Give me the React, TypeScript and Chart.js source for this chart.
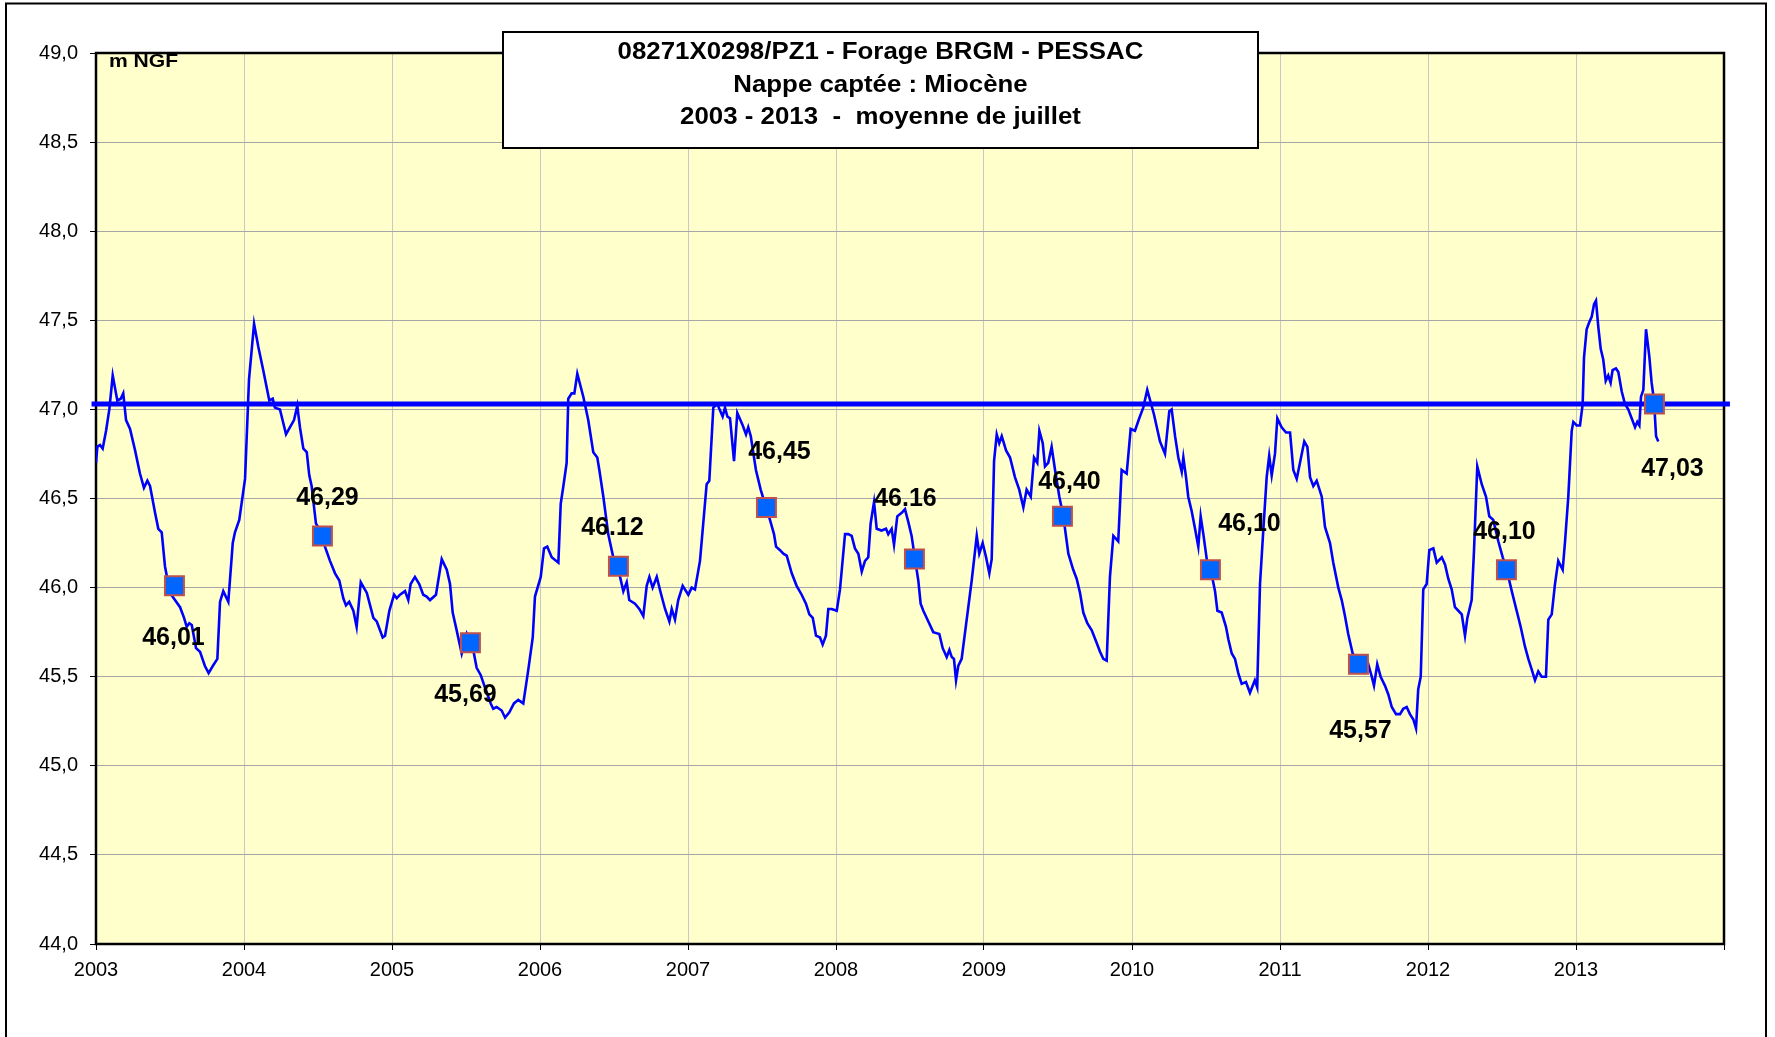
import { useEffect, useRef } from 'react';
import { Chart, registerables } from 'chart.js';

Chart.register(...registerables);

// ---- Data (decimal years, m NGF) ----
const levelYears = [
  2003.000, 2003.009, 2003.027, 2003.045, 2003.068, 2003.090, 2003.113, 2003.144, 2003.167, 2003.184,
  2003.203, 2003.230, 2003.264, 2003.297, 2003.324, 2003.347, 2003.365, 2003.399, 2003.421, 2003.444,
  2003.466, 2003.500, 2003.568, 2003.595, 2003.613, 2003.630, 2003.647, 2003.676, 2003.703, 2003.736,
  2003.761, 2003.789, 2003.820, 2003.838, 2003.860, 2003.894, 2003.924, 2003.939, 2003.968, 2004.007,
  2004.034, 2004.068, 2004.097, 2004.130, 2004.171, 2004.194, 2004.209, 2004.243, 2004.284, 2004.311,
  2004.338, 2004.360, 2004.378, 2004.401, 2004.424, 2004.441, 2004.457, 2004.486, 2004.532, 2004.547,
  2004.581, 2004.615, 2004.644, 2004.671, 2004.689, 2004.711, 2004.739, 2004.761, 2004.789, 2004.830,
  2004.874, 2004.897, 2004.937, 2004.953, 2004.982, 2005.014, 2005.032, 2005.054, 2005.088, 2005.110,
  2005.126, 2005.155, 2005.184, 2005.211, 2005.234, 2005.257, 2005.297, 2005.336, 2005.370, 2005.392,
  2005.410, 2005.437, 2005.471, 2005.505, 2005.549, 2005.572, 2005.599, 2005.628, 2005.667, 2005.684,
  2005.707, 2005.741, 2005.764, 2005.793, 2005.824, 2005.853, 2005.887, 2005.921, 2005.951, 2005.966,
  2006.005, 2006.027, 2006.049, 2006.079, 2006.124, 2006.140, 2006.158, 2006.180, 2006.191, 2006.214,
  2006.232, 2006.252, 2006.293, 2006.326, 2006.360, 2006.387, 2006.401, 2006.428, 2006.461, 2006.495,
  2006.541, 2006.563, 2006.586, 2006.603, 2006.642, 2006.671, 2006.698, 2006.721, 2006.739, 2006.761,
  2006.789, 2006.816, 2006.845, 2006.874, 2006.890, 2006.912, 2006.934, 2006.964, 2007.002, 2007.025,
  2007.047, 2007.081, 2007.103, 2007.126, 2007.144, 2007.171, 2007.198, 2007.234, 2007.250, 2007.266,
  2007.284, 2007.311, 2007.333, 2007.370, 2007.392, 2007.407, 2007.424, 2007.459, 2007.491, 2007.520,
  2007.554, 2007.581, 2007.595, 2007.622, 2007.644, 2007.667, 2007.701, 2007.734, 2007.768, 2007.797,
  2007.820, 2007.843, 2007.865, 2007.892, 2007.910, 2007.932, 2007.948, 2007.971, 2008.005, 2008.027,
  2008.061, 2008.083, 2008.106, 2008.128, 2008.151, 2008.174, 2008.196, 2008.218, 2008.234, 2008.257,
  2008.275, 2008.308, 2008.338, 2008.353, 2008.376, 2008.392, 2008.414, 2008.444, 2008.466, 2008.488,
  2008.511, 2008.534, 2008.556, 2008.572, 2008.590, 2008.624, 2008.657, 2008.698, 2008.721, 2008.748,
  2008.766, 2008.782, 2008.797, 2008.811, 2008.826, 2008.849, 2008.883, 2008.917, 2008.951, 2008.968,
  2008.991, 2009.014, 2009.036, 2009.052, 2009.068, 2009.086, 2009.103, 2009.120, 2009.149, 2009.176,
  2009.209, 2009.238, 2009.266, 2009.288, 2009.316, 2009.338, 2009.360, 2009.374, 2009.397, 2009.412,
  2009.434, 2009.457, 2009.480, 2009.509, 2009.536, 2009.570, 2009.603, 2009.626, 2009.649, 2009.671,
  2009.698, 2009.728, 2009.761, 2009.784, 2009.806, 2009.829, 2009.851, 2009.874, 2009.907, 2009.930,
  2009.964, 2009.991, 2010.020, 2010.049, 2010.076, 2010.103, 2010.126, 2010.149, 2010.189, 2010.223,
  2010.252, 2010.268, 2010.291, 2010.313, 2010.336, 2010.347, 2010.365, 2010.380, 2010.403, 2010.426,
  2010.448, 2010.464, 2010.482, 2010.505, 2010.532, 2010.561, 2010.577, 2010.606, 2010.635, 2010.651,
  2010.674, 2010.696, 2010.718, 2010.741, 2010.770, 2010.797, 2010.830, 2010.846, 2010.865, 2010.887,
  2010.910, 2010.927, 2010.944, 2010.966, 2010.982, 2011.011, 2011.041, 2011.068, 2011.090, 2011.113,
  2011.135, 2011.164, 2011.185, 2011.203, 2011.225, 2011.248, 2011.282, 2011.304, 2011.338, 2011.360,
  2011.394, 2011.417, 2011.439, 2011.461, 2011.491, 2011.518, 2011.586, 2011.620, 2011.635, 2011.657,
  2011.680, 2011.709, 2011.732, 2011.755, 2011.784, 2011.811, 2011.833, 2011.856, 2011.878, 2011.901,
  2011.919, 2011.934, 2011.951, 2011.968, 2011.991, 2012.009, 2012.036, 2012.059, 2012.093, 2012.115,
  2012.137, 2012.160, 2012.182, 2012.205, 2012.228, 2012.250, 2012.266, 2012.295, 2012.311, 2012.333,
  2012.363, 2012.392, 2012.414, 2012.441, 2012.475, 2012.505, 2012.532, 2012.566, 2012.599, 2012.626,
  2012.655, 2012.678, 2012.701, 2012.723, 2012.745, 2012.768, 2012.797, 2012.813, 2012.836, 2012.858,
  2012.880, 2012.910, 2012.926, 2012.948, 2012.971, 2012.982, 2013.005, 2013.027, 2013.045, 2013.054,
  2013.072, 2013.090, 2013.106, 2013.122, 2013.135, 2013.151, 2013.167, 2013.184, 2013.201, 2013.218,
  2013.234, 2013.247, 2013.270, 2013.286, 2013.309, 2013.331, 2013.353, 2013.376, 2013.399, 2013.414,
  2013.428, 2013.439, 2013.455, 2013.473, 2013.495, 2013.511, 2013.527, 2013.541, 2013.556,
];

const levelValues = [
  46.70, 46.79, 46.80, 46.78, 46.88, 47.00, 47.19, 47.05, 47.06, 47.09,
  46.94, 46.89, 46.77, 46.64, 46.56, 46.60, 46.57, 46.42, 46.33, 46.31,
  46.12, 45.97, 45.89, 45.83, 45.78, 45.80, 45.79, 45.66, 45.64, 45.56,
  45.52, 45.56, 45.60, 45.92, 45.98, 45.92, 46.25, 46.31, 46.38, 46.61,
  47.17, 47.48, 47.35, 47.22, 47.05, 47.06, 47.01, 47.00, 46.86, 46.90,
  46.94, 47.02, 46.90, 46.78, 46.76, 46.63, 46.57, 46.36, 46.29, 46.23,
  46.15, 46.08, 46.04, 45.94, 45.90, 45.92, 45.87, 45.78, 46.03, 45.97,
  45.83, 45.81, 45.72, 45.73, 45.87, 45.96, 45.94, 45.96, 45.98, 45.93,
  46.02, 46.06, 46.02, 45.96, 45.95, 45.93, 45.96, 46.16, 46.10, 46.02,
  45.86, 45.76, 45.63, 45.74, 45.65, 45.55, 45.51, 45.44, 45.35, 45.32,
  45.33, 45.31, 45.27, 45.30, 45.35, 45.37, 45.35, 45.54, 45.72, 45.95,
  46.06, 46.22, 46.23, 46.17, 46.14, 46.47, 46.57, 46.70, 47.06, 47.09,
  47.09, 47.20, 47.07, 46.94, 46.76, 46.73, 46.66, 46.51, 46.30, 46.17,
  46.06, 45.98, 46.03, 45.93, 45.91, 45.88, 45.84, 46.01, 46.06, 46.00,
  46.06, 45.97, 45.88, 45.81, 45.88, 45.82, 45.93, 46.01, 45.96, 46.00,
  45.99, 46.15, 46.36, 46.58, 46.60, 47.01, 47.03, 46.96, 47.01, 46.96,
  46.95, 46.71, 46.98, 46.91, 46.86, 46.90, 46.85, 46.66, 46.55, 46.47,
  46.38, 46.30, 46.23, 46.21, 46.19, 46.18, 46.08, 46.01, 45.96, 45.91,
  45.85, 45.83, 45.73, 45.72, 45.68, 45.73, 45.88, 45.88, 45.87, 45.99,
  46.30, 46.30, 46.29, 46.22, 46.19, 46.09, 46.15, 46.17, 46.36, 46.48,
  46.33, 46.32, 46.33, 46.30, 46.33, 46.24, 46.40, 46.42, 46.44, 46.37,
  46.29, 46.16, 46.04, 45.91, 45.87, 45.81, 45.75, 45.74, 45.66, 45.61,
  45.65, 45.61, 45.60, 45.48, 45.56, 45.60, 45.82, 46.04, 46.29, 46.19,
  46.25, 46.17, 46.08, 46.16, 46.71, 46.86, 46.81, 46.85, 46.77, 46.73,
  46.62, 46.55, 46.45, 46.55, 46.51, 46.73, 46.70, 46.88, 46.81, 46.68,
  46.70, 46.79, 46.66, 46.51, 46.40, 46.19, 46.10, 46.05, 45.97, 45.86,
  45.80, 45.76, 45.69, 45.64, 45.60, 45.59, 46.06, 46.29, 46.26, 46.66,
  46.64, 46.89, 46.88, 46.95, 47.01, 47.11, 47.04, 46.97, 46.82, 46.75,
  46.99, 47.00, 46.85, 46.73, 46.65, 46.73, 46.62, 46.51, 46.43, 46.33,
  46.23, 46.40, 46.30, 46.16, 46.10, 45.98, 45.87, 45.86, 45.78, 45.71,
  45.63, 45.60, 45.52, 45.46, 45.47, 45.41, 45.48, 45.44, 46.02, 46.32,
  46.62, 46.74, 46.63, 46.75, 46.95, 46.90, 46.87, 46.87, 46.66, 46.61,
  46.70, 46.82, 46.79, 46.62, 46.57, 46.60, 46.51, 46.34, 46.25, 46.14,
  46.00, 45.93, 45.84, 45.74, 45.63, 45.60, 45.60, 45.50, 45.45, 45.57,
  45.50, 45.45, 45.40, 45.33, 45.29, 45.29, 45.32, 45.33, 45.29, 45.26,
  45.21, 45.43, 45.50, 45.99, 46.02, 46.21, 46.22, 46.14, 46.17, 46.13,
  46.05, 45.99, 45.89, 45.87, 45.85, 45.73, 45.83, 45.93, 46.21, 46.68,
  46.58, 46.51, 46.40, 46.38, 46.26, 46.17, 46.10, 45.98, 45.87, 45.78,
  45.67, 45.60, 45.54, 45.48, 45.53, 45.50, 45.50, 45.82, 45.85, 46.02,
  46.15, 46.10, 46.26, 46.51, 46.88, 46.93, 46.91, 46.91, 47.03, 47.29,
  47.45, 47.49, 47.52, 47.59, 47.61, 47.46, 47.34, 47.28, 47.16, 47.19,
  47.15, 47.22, 47.23, 47.21, 47.10, 47.03, 47.00, 46.95, 46.90, 46.93,
  46.91, 47.07, 47.11, 47.45, 47.30, 47.15, 47.05, 46.85, 46.82,
];

const julyYears = [2003.53, 2004.53, 2005.53, 2006.53, 2007.53, 2008.53, 2009.53, 2010.53, 2011.53, 2012.53, 2013.53];
const julyMeans = [46.01, 46.29, 45.69, 46.12, 46.45, 46.16, 46.40, 46.10, 45.57, 46.10, 47.03];
const julyLabels = ['46,01', '46,29', '45,69', '46.12', '46,45', '46.16', '46,40', '46,10', '45,57', '46,10', '47,03'];

const meanLevel = 47.03;
const meanLineYears = [2002.97, 2014.04];

const titleLines = [
  '08271X0298/PZ1 - Forage BRGM - PESSAC',
  'Nappe captée : Miocène',
  '2003 - 2013  -  moyenne de juillet',
];
const unitText = 'm NGF';

// ---- Styles / layout ----
const FONT = '"Liberation Sans", Arial, sans-serif';
const labelOffsets = [
  [-1, 52], [5, -38], [-5, 52], [-6, -38], [13, -55], [-9, -60],
  [7, -34], [39, -46], [2, 67], [-2, -38], [18, 65],
];

function stretchedText(ctx: CanvasRenderingContext2D, text: string, x: number, y: number, font: string, sx: number, align: CanvasTextAlign) {
  ctx.save();
  ctx.translate(x, y);
  ctx.scale(sx, 1);
  ctx.font = font;
  ctx.textAlign = align;
  ctx.textBaseline = 'alphabetic';
  ctx.fillStyle = '#000';
  ctx.fillText(text, 0, 0);
  ctx.restore();
}

const decorPlugin = {
  id: 'decor',
  beforeDraw(chart: any) {
    const { ctx, chartArea: a } = chart;
    ctx.save();
    ctx.fillStyle = '#FFFFFF';
    ctx.fillRect(0, 0, chart.width, chart.height);
    ctx.fillStyle = '#FFFFCC';
    ctx.fillRect(a.left, a.top, a.right - a.left, a.bottom - a.top);
    ctx.restore();
  },
  beforeDatasetsDraw(chart: any) {
    const { ctx, chartArea: a } = chart;
    ctx.save();
    ctx.strokeStyle = '#000';
    ctx.lineWidth = 2.5;
    ctx.strokeRect(a.left, a.top, a.right - a.left, a.bottom - a.top);
    ctx.restore();
  },
  afterDraw(chart: any) {
    const { ctx } = chart;
    const meta = chart.getDatasetMeta(2);
    ctx.save();
    // data labels
    ctx.font = `bold 25px ${FONT}`;
    ctx.fillStyle = '#000';
    ctx.textAlign = 'center';
    ctx.textBaseline = 'middle';
    meta.data.forEach((pt: any, i: number) => {
      const [dx, dy] = labelOffsets[i];
      ctx.fillText(julyLabels[i], pt.x + dx, pt.y + dy);
    });
    // unit label
    stretchedText(ctx, unitText, 109, 67, `bold 19px ${FONT}`, 1.11, 'left');
    // title box
    ctx.fillStyle = '#FFFFFF';
    ctx.fillRect(503, 32, 755, 116);
    ctx.strokeStyle = '#000';
    ctx.lineWidth = 2;
    ctx.strokeRect(503, 32, 755, 116);
    const baselines = [58.5, 91.5, 123.5];
    titleLines.forEach((t, i) => stretchedText(ctx, t, 880.5, baselines[i], `bold 23.5px ${FONT}`, 1.10, 'center'));
    // outer frame
    ctx.strokeStyle = '#000';
    ctx.lineWidth = 2;
    ctx.strokeRect(6, 3.5, 1760, 1060);
    ctx.restore();
  },
};

export default function App() {
  const canvasRef = useRef<HTMLCanvasElement>(null);

  useEffect(() => {
    const canvas = canvasRef.current;
    if (!canvas) return;
    const chart = new Chart(canvas, {
      type: 'line',
      data: {
        datasets: [
          {
            label: 'Niveau',
            data: levelYears.map((x, i) => ({ x, y: levelValues[i] })),
            borderColor: '#0000FF',
            borderWidth: 2.6,
            pointRadius: 0,
            tension: 0,
            fill: false,
            order: 3,
          },
          {
            label: 'Moyenne',
            data: meanLineYears.map((x) => ({ x, y: meanLevel })),
            borderColor: '#0000FF',
            borderWidth: 5,
            pointRadius: 0,
            fill: false,
            clip: false,
            order: 2,
          },
          {
            label: 'Juillet',
            data: julyYears.map((x, i) => ({ x, y: julyMeans[i] })),
            showLine: false,
            pointStyle: 'rect',
            pointRadius: 13.4,
            backgroundColor: '#0066FF',
            borderColor: '#C0504D',
            borderWidth: 2,
            order: 1,
          },
        ],
      } as any,
      options: {
        responsive: false,
        animation: false,
        events: [],
        layout: { padding: { left: 0, right: 51, top: 53, bottom: 0 } },
        plugins: {
          legend: { display: false },
          title: { display: false },
          tooltip: { enabled: false },
        },
        scales: {
          x: {
            type: 'linear',
            min: 2003,
            max: 2014,
            afterFit: (s: any) => { s.height = 93; },
            ticks: {
              stepSize: 1,
              autoSkip: false,
              maxRotation: 0,
              padding: 8,
              color: '#000',
              font: { family: FONT, size: 20 },
              callback: (v: any) => (Number(v) <= 2013 ? String(v) : ''),
            },
            grid: { color: '#C8C8C8', lineWidth: 1, tickLength: 6, tickColor: '#000', tickWidth: 1 },
            border: { display: false },
          },
          y: {
            min: 44,
            max: 49,
            afterFit: (s: any) => { s.width = 96; },
            ticks: {
              stepSize: 0.5,
              autoSkip: false,
              padding: 12,
              color: '#000',
              font: { family: FONT, size: 20 },
              callback: (v: any) => Number(v).toFixed(1).replace('.', ','),
            },
            grid: { color: '#A6A6A6', lineWidth: 1, tickLength: 6, tickColor: '#000', tickWidth: 1 },
            border: { display: false },
          },
        },
      } as any,
      plugins: [decorPlugin],
    });
    return () => chart.destroy();
  }, []);

  return (
    <div style={{ position: 'absolute', left: 0, top: 0, width: 1775, height: 1037 }}>
      <canvas ref={canvasRef} width={1775} height={1037} style={{ display: 'block' }} />
    </div>
  );
}
